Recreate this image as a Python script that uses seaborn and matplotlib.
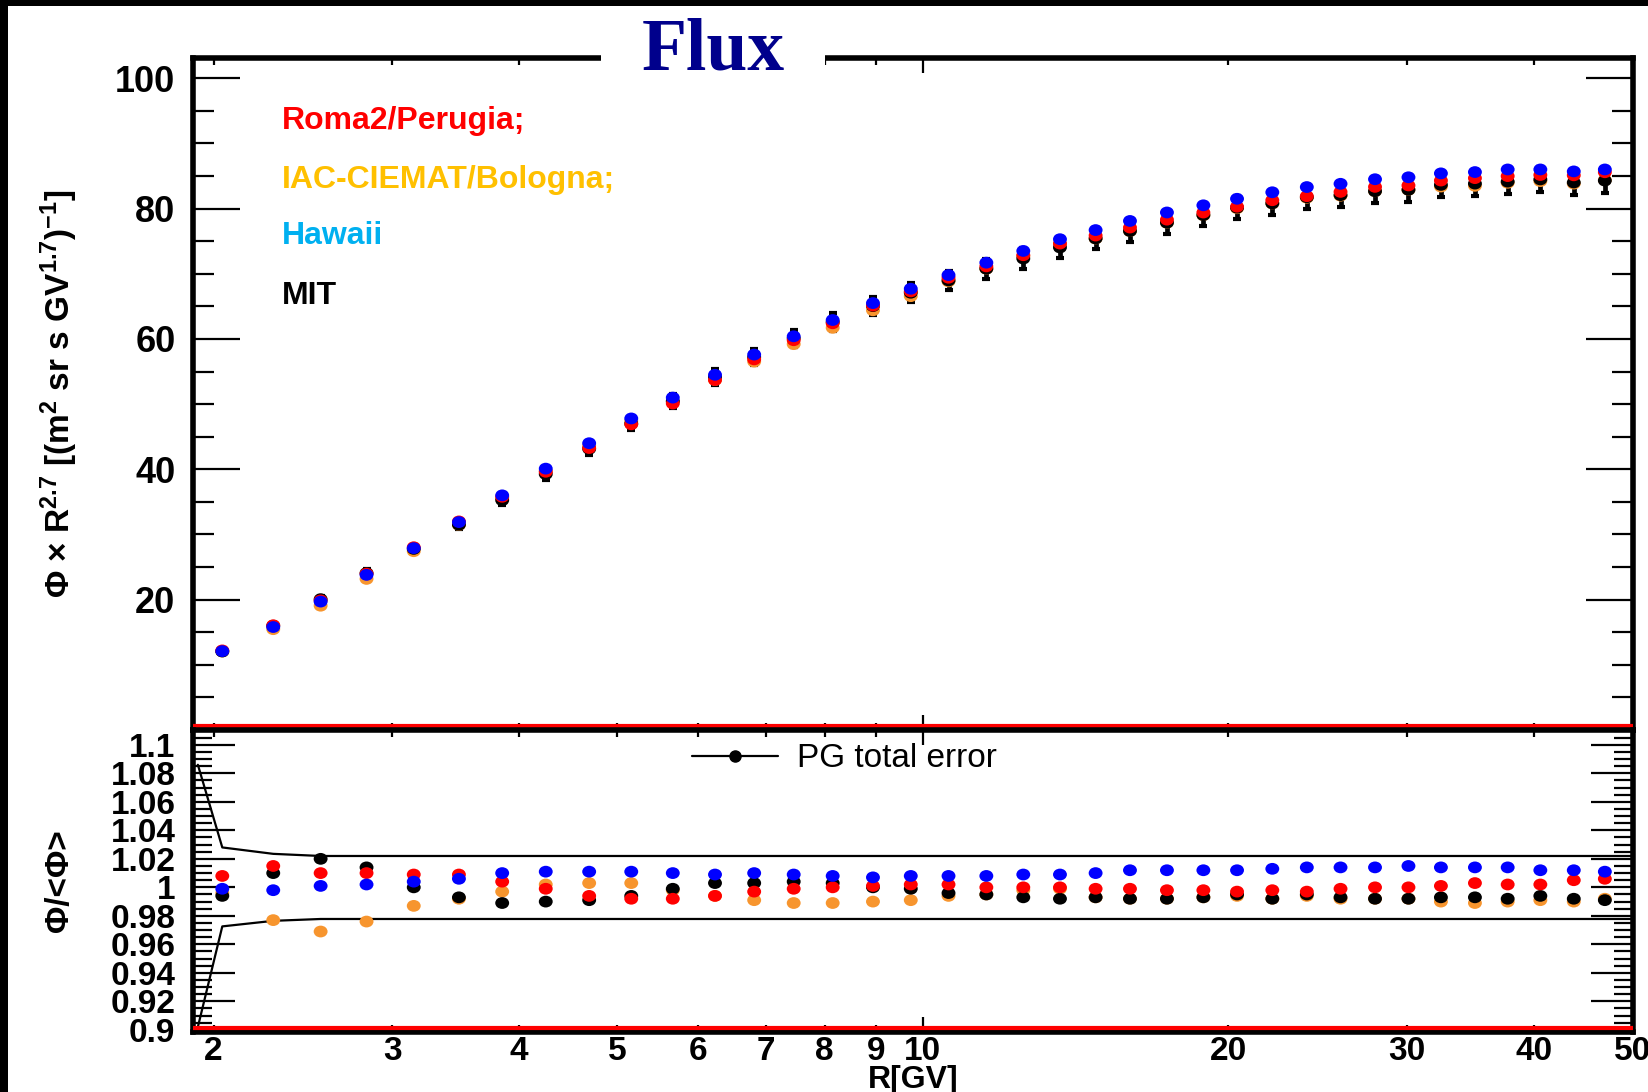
import matplotlib
matplotlib.use("Agg")
import matplotlib.pyplot as plt
import seaborn as sns
import pandas as pd
from matplotlib.lines import Line2D
from matplotlib.patches import Rectangle
from matplotlib.path import Path
from matplotlib.transforms import Affine2D
from matplotlib.ticker import MultipleLocator, FixedLocator, NullFormatter

# ---------------- data ----------------
rigidity = [2.04, 2.29, 2.55, 2.83, 3.15, 3.49, 3.85, 4.25, 4.69, 5.16, 5.67, 6.24,
            6.82, 7.46, 8.15, 8.93, 9.73, 10.6, 11.55, 12.56, 13.65, 14.8, 16.0, 17.4,
            18.9, 20.4, 22.1, 23.9, 25.8, 27.9, 30.1, 32.4, 35.0, 37.7, 40.6, 43.8, 47.0]

flux_roma = [12.21, 16.07, 19.88, 23.99, 28.04, 32.00, 35.78, 39.62, 43.26, 46.90, 50.09, 53.69,
             56.86, 59.80, 62.40, 65.11, 67.29, 69.39, 71.13, 72.84, 74.63, 75.86, 77.09, 78.30,
             79.39, 80.29, 81.28, 81.90, 82.56, 83.33, 83.55, 84.30, 84.67, 84.98, 85.15, 85.10, 85.57]
flux_iac = [12.06, 15.47, 19.07, 23.18, 27.43, 31.46, 35.53, 39.74, 43.65, 47.42, 50.40, 53.69,
            56.52, 59.20, 61.71, 64.39, 66.56, 68.83, 70.77, 72.70, 74.55, 75.41, 76.55, 77.83,
            78.99, 80.05, 80.79, 81.66, 81.98, 82.66, 82.88, 83.38, 83.49, 83.96, 84.21, 83.83, 84.38]
flux_hawaii = [12.1, 15.8, 19.7, 23.8, 27.9, 31.9, 36.0, 40.1, 44.0, 47.8, 51.0, 54.5,
               57.6, 60.4, 62.9, 65.5, 67.7, 69.8, 71.7, 73.5, 75.3, 76.7, 78.1, 79.4,
               80.5, 81.5, 82.5, 83.3, 83.8, 84.5, 84.8, 85.4, 85.6, 86.0, 86.0, 85.7, 86.0]
flux_mit = [12.04, 15.99, 20.07, 24.08, 27.79, 31.49, 35.25, 39.26, 43.13, 47.00, 50.45, 54.17,
            57.20, 60.10, 62.59, 65.04, 67.09, 68.97, 70.77, 72.33, 74.03, 75.41, 76.55, 77.83,
            78.99, 80.13, 80.79, 81.74, 82.06, 82.66, 82.88, 83.63, 83.83, 84.13, 84.47, 84.00, 84.29]
mit_err = [0.34, 0.37, 0.46, 0.55, 0.63, 0.71, 0.79, 0.87, 0.95, 1.03, 1.10, 1.18,
           1.25, 1.31, 1.37, 1.43, 1.48, 1.52, 1.56, 1.60, 1.63, 1.66, 1.69, 1.72,
           1.74, 1.77, 1.78, 1.80, 1.81, 1.82, 1.83, 1.84, 1.85, 1.86, 1.86, 1.86, 1.86]

ratio_roma = [1.008, 1.015, 1.010, 1.010, 1.009, 1.009, 1.004, 0.999, 0.994, 0.992, 0.992, 0.994,
              0.997, 0.999, 1.000, 1.001, 1.002, 1.002, 1.000, 1.000, 1.000, 0.999, 0.999, 0.998,
              0.998, 0.997, 0.998, 0.997, 0.999, 1.000, 1.000, 1.001, 1.003, 1.002, 1.002, 1.005, 1.006]
ratio_iac = [0.996, 0.977, 0.969, 0.976, 0.987, 0.992, 0.997, 1.002, 1.003, 1.003, 0.998, 0.994,
             0.991, 0.989, 0.989, 0.990, 0.991, 0.994, 0.995, 0.998, 0.999, 0.993, 0.992, 0.992,
             0.993, 0.994, 0.992, 0.994, 0.992, 0.992, 0.992, 0.990, 0.989, 0.990, 0.991, 0.990, 0.992]
ratio_hawaii = [0.999, 0.998, 1.001, 1.002, 1.004, 1.006, 1.010, 1.011, 1.011, 1.011, 1.010, 1.009,
                1.010, 1.009, 1.008, 1.007, 1.008, 1.008, 1.008, 1.009, 1.009, 1.010, 1.012, 1.012,
                1.012, 1.012, 1.013, 1.014, 1.014, 1.014, 1.015, 1.014, 1.014, 1.014, 1.012, 1.012, 1.011]
ratio_mit = [0.994, 1.010, 1.020, 1.014, 1.000, 0.993, 0.989, 0.990, 0.991, 0.994, 0.999, 1.003,
             1.003, 1.004, 1.003, 1.000, 0.999, 0.996, 0.995, 0.993, 0.992, 0.993, 0.992, 0.992,
             0.993, 0.995, 0.992, 0.995, 0.993, 0.992, 0.992, 0.993, 0.993, 0.992, 0.994, 0.992, 0.991]

band_r = [1.93, 2.04, 2.29, 2.55, 50.0]
band_upper = [1.086, 1.028, 1.0235, 1.022, 1.022]
band_lower = [0.902, 0.9726, 0.9765, 0.9778, 0.9778]

group_names = ["Roma2/Perugia;", "IAC-CIEMAT/Bologna;", "Hawaii", "MIT"]
group_text_colors = ["#ff0000", "#ffc000", "#00b0f0", "#000000"]

x_tick_values = [2, 3, 4, 5, 6, 7, 8, 9, 10, 20, 30, 40, 50]
x_tick_labels = ["2", "3", "4", "5", "6", "7", "8", "9", "10", "20", "30", "40", "50"]
top_y_ticks = [20, 40, 60, 80, 100]
top_y_labels = ["20", "40", "60", "80", "100"]
bot_y_ticks = [0.9, 0.92, 0.94, 0.96, 0.98, 1.0, 1.02, 1.04, 1.06, 1.08, 1.1]
bot_y_labels = ["0.9", "0.92", "0.94", "0.96", "0.98", "1", "1.02", "1.04", "1.06", "1.08", "1.1"]

# ---------------- style ----------------
sns.set_style("ticks")
plt.rcParams["font.family"] = ["Liberation Sans", "DejaVu Sans"]
plt.rcParams["mathtext.default"] = "regular"
for key in ("text.color", "axes.labelcolor", "xtick.color", "ytick.color", "axes.edgecolor"):
    plt.rcParams[key] = "black"

C_RED, C_ORANGE, C_BLUE, C_BLACK = "#ff0000", "#f7952e", "#0000ff", "#000000"

W, H = 1649, 1092
def fx(p):
    return p / W
def fy(p):
    return 1 - p / H

fig = plt.figure(figsize=(W / 100, H / 100), dpi=100, facecolor="white")
L, R = 193.5, 1633.0
T, MID, B = 58.0, 730.0, 1032.0
ax_top = fig.add_axes([fx(L), fy(MID), fx(R) - fx(L), fy(T) - fy(MID)])
ax_bot = fig.add_axes([fx(L), fy(B), fx(R) - fx(L), fy(MID) - fy(B)])

ellipse = Path.unit_circle().transformed(Affine2D().scale(1.18, 1.0))
mk = dict(marker=ellipse, s=100, linewidth=0, edgecolor="none", legend=False)

# ---------------- top panel ----------------
ax_top.errorbar(rigidity, flux_mit, yerr=mit_err, fmt="none", ecolor=C_BLACK,
                elinewidth=3.4, capsize=3, capthick=3, zorder=2)
sns.scatterplot(x=rigidity, y=flux_iac, color=C_ORANGE, ax=ax_top, zorder=3, **mk)
sns.scatterplot(x=rigidity, y=flux_mit, color=C_BLACK, ax=ax_top, zorder=4, **mk)
sns.scatterplot(x=rigidity, y=flux_roma, color=C_RED, ax=ax_top, zorder=5, **mk)
sns.scatterplot(x=rigidity, y=flux_hawaii, color=C_BLUE, ax=ax_top, zorder=6, **mk)

# ---------------- bottom panel ----------------
sns.lineplot(x=band_r, y=band_upper, color="black", lw=1.6, ax=ax_bot, zorder=2)
sns.lineplot(x=band_r, y=band_lower, color="black", lw=1.6, ax=ax_bot, zorder=2)
sns.scatterplot(x=rigidity, y=ratio_iac, color=C_ORANGE, ax=ax_bot, zorder=3, **mk)
sns.scatterplot(x=rigidity, y=ratio_mit, color=C_BLACK, ax=ax_bot, zorder=4, **mk)
sns.scatterplot(x=rigidity, y=ratio_roma, color=C_RED, ax=ax_bot, zorder=5, **mk)
sns.scatterplot(x=rigidity, y=ratio_hawaii, color=C_BLUE, ax=ax_bot, zorder=6, **mk)

# ---------------- axes ----------------
for ax in (ax_top, ax_bot):
    ax.set_xscale("log")
    ax.set_xlim(1.911, 50.1)
    ax.set_facecolor("white")
    for sp in ax.spines.values():
        sp.set_linewidth(4.0)
        sp.set_color("black")
        sp.set_visible(True)
    ax.xaxis.set_major_locator(FixedLocator([10]))
    ax.xaxis.set_minor_locator(FixedLocator([v for v in x_tick_values if v != 10]))
    ax.tick_params(axis="x", which="major", direction="in", length=11, width=1.6,
                   top=True, bottom=True)
    ax.tick_params(axis="x", which="minor", direction="in", length=5, width=1.6,
                   top=True, bottom=True)
    ax.tick_params(axis="y", which="both", direction="in", left=True, right=True, width=1.6)
    ax.set_xlabel("")
    ax.set_ylabel("")
    # red line just inside the lower frame edge
    ax.plot([0, 1], [0.012 if ax is ax_bot else 0.006] * 2, transform=ax.transAxes,
            color="red", lw=3, solid_capstyle="butt", zorder=7, clip_on=False)

ax_top.xaxis.set_major_formatter(NullFormatter())
ax_top.xaxis.set_minor_formatter(NullFormatter())
ax_top.set_ylim(0, 103.1)
ax_top.set_yticks(top_y_ticks, labels=top_y_labels)
ax_top.yaxis.set_minor_locator(MultipleLocator(5))
ax_top.tick_params(axis="y", which="major", length=34, labelsize=26, pad=13)
ax_top.tick_params(axis="y", which="minor", length=15)
for lab in ax_top.get_yticklabels():
    lab.set_fontweight("bold")

ax_bot.set_ylim(0.8985, 1.1104)
ax_bot.set_yticks(bot_y_ticks, labels=bot_y_labels)
ax_bot.yaxis.set_minor_locator(MultipleLocator(0.005))
ax_bot.tick_params(axis="y", which="major", length=30, labelsize=24, pad=13)
ax_bot.tick_params(axis="y", which="minor", length=14)
ax_bot.set_xticks([10], labels=["10"])
ax_bot.set_xticks([v for v in x_tick_values if v != 10],
                  labels=[l for v, l in zip(x_tick_values, x_tick_labels) if v != 10], minor=True)
ax_bot.tick_params(axis="x", which="both", labelsize=24, pad=3)
for lab in ax_bot.get_yticklabels() + ax_bot.get_xticklabels() + ax_bot.get_xticklabels(minor=True):
    lab.set_fontweight("bold")

# axis titles
ax_top.set_ylabel("Φ × R$^{2.7}$ [(m$^{2}$ sr s GV$^{1.7}$)$^{-1}$]", fontsize=24, fontweight="bold")
ax_top.yaxis.label.set_va("center")
ax_top.yaxis.set_label_coords((59 - L) / (R - L), 0.5)
ax_bot.set_ylabel("Φ/<Φ>", fontsize=24, fontweight="bold")
ax_bot.yaxis.label.set_va("center")
ax_bot.yaxis.set_label_coords((60 - L) / (R - L), 0.5)
ax_bot.set_xlabel("R[GV]", fontsize=23, fontweight="bold")
ax_bot.xaxis.label.set_va("center")
ax_bot.xaxis.set_label_coords(0.5, -(1080 - B) / (B - MID))

# group labels in top panel
for name, col, yf in zip(group_names, group_text_colors, [0.9057, 0.8189, 0.7358, 0.646]):
    ax_top.text(0.0615, yf, name, transform=ax_top.transAxes, color=col,
                fontsize=23, fontweight="bold", ha="left", va="center", zorder=8)

# PG total error legend
handle = Line2D([], [], color="black", lw=1.6, marker="o", markersize=8)
ax_bot.legend([handle], ["PG total error"], loc="center left", bbox_to_anchor=(0.346, 0.904),
              frameon=False, borderpad=0, borderaxespad=0, handlelength=2.6,
              handletextpad=0.55, fontsize=24)

# title in a white box interrupting the frame
fig.text(fx(713), fy(51), "Flux", ha="center", va="center", fontsize=53, fontweight="bold",
         family=["Liberation Serif", "DejaVu Serif"], color="#00008c", zorder=50,
         bbox=dict(boxstyle="square,pad=0.55", facecolor="white", edgecolor="none"))

# black frame bands of the screenshot (left and top)
fig.add_artist(Rectangle((0, 0), fx(8), 1, transform=fig.transFigure, facecolor="black",
                         edgecolor="none", zorder=100))
fig.add_artist(Rectangle((0, fy(6)), 1, 6 / H, transform=fig.transFigure, facecolor="black",
                         edgecolor="none", zorder=100))

fig.savefig("out.png", dpi=100, facecolor="white")
